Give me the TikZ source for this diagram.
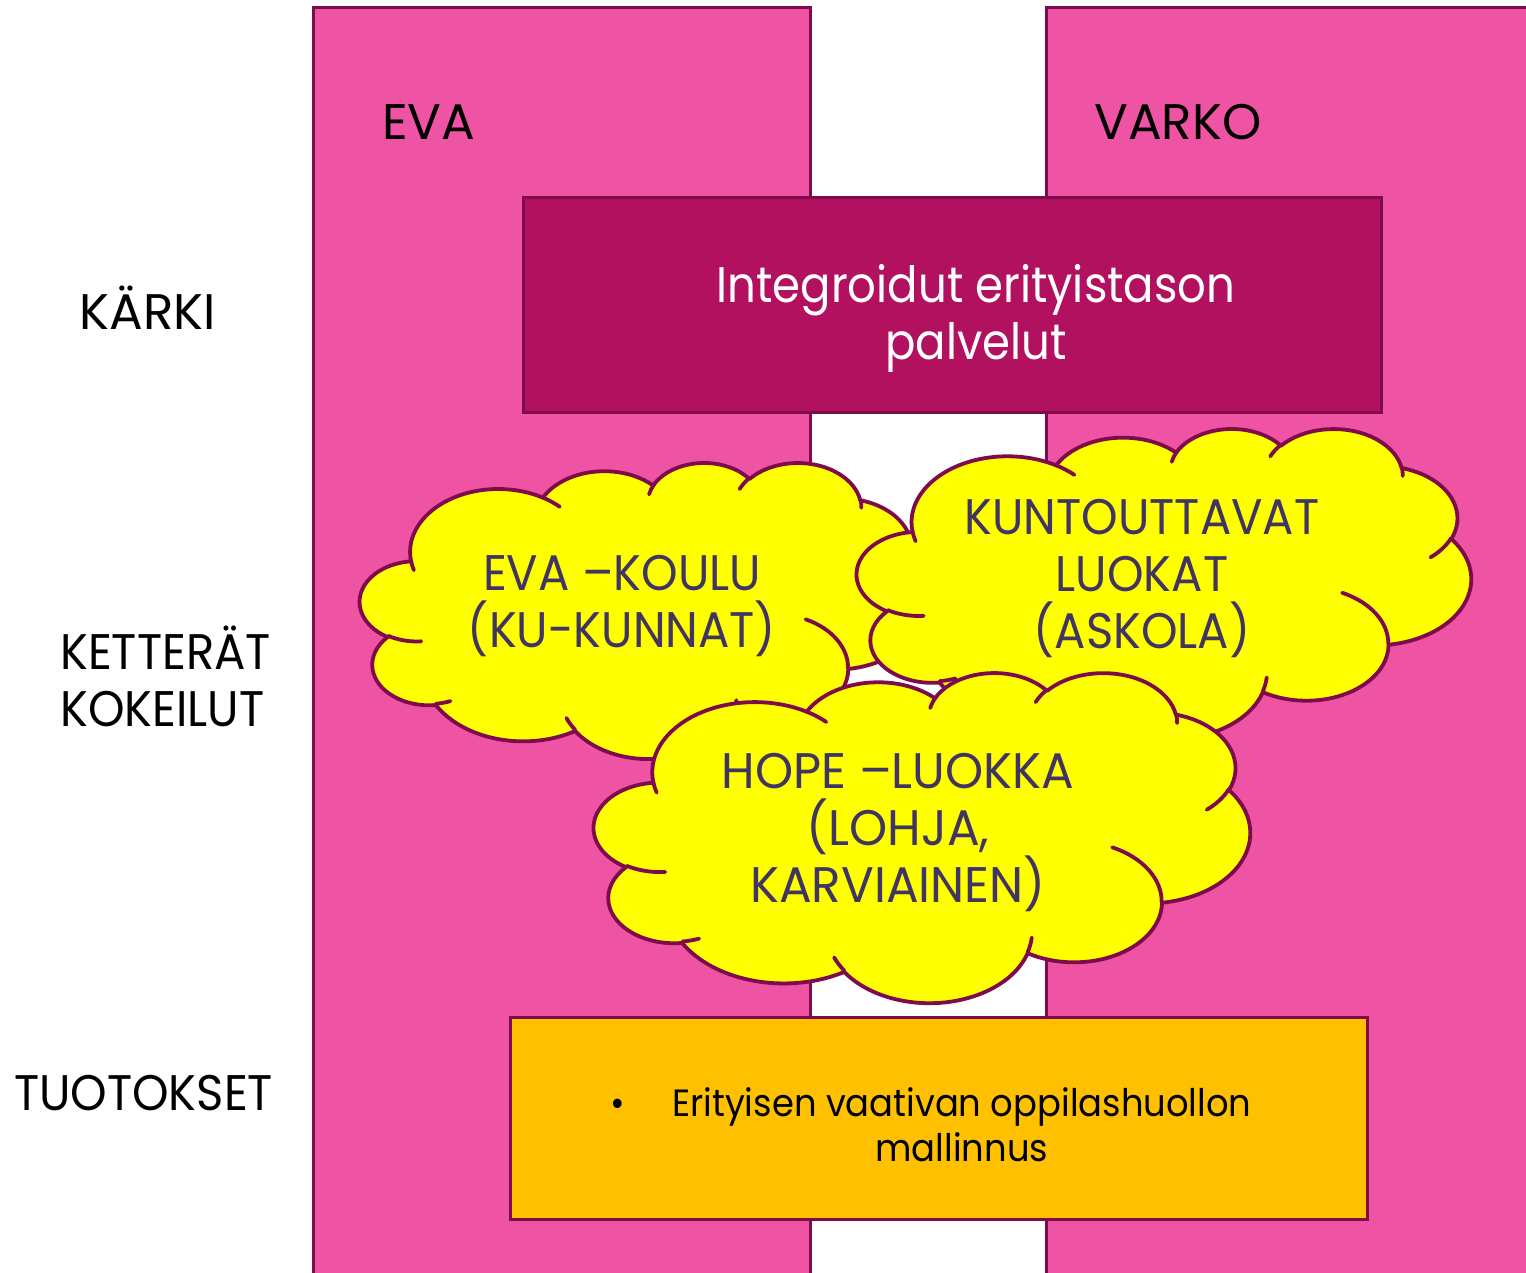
\documentclass[tikz,border=0pt]{standalone}
\usepackage{fontspec}
\setmainfont{Poppins}
\newfontfamily\fsA{Poppins}[FakeStretch=0.90]
\newfontfamily\fsB{Poppins}[FakeStretch=0.93]
\newfontfamily\fsC{Poppins}[FakeStretch=0.97]
\definecolor{pinkcol}{RGB}{239,83,164}
\definecolor{edgecol}{RGB}{126,12,76}
\definecolor{karkicol}{RGB}{178,17,96}
\definecolor{cloudtext}{RGB}{63,52,98}
\definecolor{orangecol}{RGB}{255,192,0}
\definecolor{cloudfill}{RGB}{255,255,0}
\newcommand\cldmain{}
\newcommand\cldinner{}
\newcommand\cloudshape[4]{%
  \begin{scope}[shift={(#1,#2)},xscale=#3/100,yscale=#4/100]
    \filldraw[cloudline,fill=cloudfill] (9.0278,33.2639) \cldmain -- cycle;
    \draw[cloudline] \cldinner;
  \end{scope}}
\begin{document}
\begin{tikzpicture}[x=1pt,y=-1pt,
  colbox/.style={fill=pinkcol,draw=edgecol,line width=3pt},
  cloudline/.style={draw=edgecol,line width=3.8pt,line join=round,line cap=round},
  labeltxt/.style={font=\fontsize{50}{57}\selectfont,inner sep=0pt,text=black},
  cloudtxt/.style={font=\fontsize{50}{57}\selectfont,inner sep=0pt,text=cloudtext,align=center},
  ]
% --- cloud outline (PowerPoint cloud geometry, 0..100 box) ---
\foreach \cW/\cH/\cS/\cD in {6753/9190/-190.4875/123.7805, 5333/7267/-144.1024/89.9452,
  4365/5945/-145.8079/99.7230, 4857/6595/-130.9861/117.2417, 5333/7273/-78.7089/109.0269,
  6775/9220/-46.2673/130.2690, 5785/7867/0.6250/114.0333, 6752/9215/22.4516/115.1726,
  7720/10543/66.2426/75.7110, 4360/5918/-274.9421/146.7356, 4345/5945/-246.8285/152.5189}{%
  \pgfmathsetmacro\cTa{atan2(\cW*sin(\cS),\cH*cos(\cS))}%
  \pgfmathsetmacro\cTb{atan2(\cW*sin(\cS+\cD),\cH*cos(\cS+\cD))}%
  \pgfmathsetmacro\cDd{mod((\cTb)-(\cTa)+720,360)}%
  \pgfmathsetmacro\cSa{0-(\cTa)}%
  \pgfmathsetmacro\cDa{0-(\cDd)}%
  \pgfmathsetmacro\cRx{\cW/432}%
  \pgfmathsetmacro\cRy{\cH/432}%
  \xdef\cldmain{\cldmain arc[start angle=\cSa, delta angle=\cDa, x radius=\cRx pt, y radius=\cRy pt]}%
}
\foreach \cX/\cY/\cW/\cH/\cS/\cD in {10.8634/60.5949/4345/5945/86.7420/26.4295,
  16.0370/80.7847/4360/5918/73.6105/11.4475, 38.1435/90.4861/6752/9215/137.6242/14.0811,
  66.7292/80.4421/6752/9215/6.4533/15.9984, 79.0023/53.1343/5785/7867/-70.2924/70.9174,
  96.7546/35.5417/5333/7273/30.3180/27.7515, 88.7130/12.5602/4857/6595/-13.7443/14.8589,
  67.3102/9.1481/4857/6595/-149.1815/18.1954, 51.2523/10.9259/4365/5945/-163.4943/17.6864,
  32.4074/12.0185/6753/9190/-66.7070/12.3194, 9.5532/36.5486/6753/9190/157.6544/11.8582}{%
  \pgfmathsetmacro\cTa{atan2(\cW*sin(\cS),\cH*cos(\cS))}%
  \pgfmathsetmacro\cTb{atan2(\cW*sin(\cS+\cD),\cH*cos(\cS+\cD))}%
  \pgfmathsetmacro\cDd{mod((\cTb)-(\cTa)+720,360)}%
  \pgfmathsetmacro\cSa{0-(\cTa)}%
  \pgfmathsetmacro\cDa{0-(\cDd)}%
  \pgfmathsetmacro\cRx{\cW/432}%
  \pgfmathsetmacro\cRy{\cH/432}%
  \xdef\cldinner{\cldinner (\cX,\cY) arc[start angle=\cSa, delta angle=\cDa, x radius=\cRx pt, y radius=\cRy pt]}%
}
\useasboundingbox (0,0) rectangle (1526,1273);
\fill[white] (0,0) rectangle (1526,1273);
% columns
\filldraw[colbox] (313,1300) -- (313,8) -- (810,8) -- (810,1300);
\filldraw[colbox] (1046,1300) -- (1046,8) -- (1560,8) -- (1560,1300);
% karki box
\node[fill=karkicol,draw=edgecol,line width=3pt,minimum width=858,minimum height=214,inner sep=0pt] (karki) at (952,305) {};
\node[font=\fontsize{50}{57}\selectfont\fsA,text=white,align=center,inner sep=0pt] (karkitxt) at (976,318) {Integroidut erityistason\\palvelut};
% output box
\node[fill=orangecol,draw=edgecol,line width=3pt,minimum width=857,minimum height=202,inner sep=0pt] (tuotos) at (938.5,1118) {};
\node[font=\fontsize{38}{45}\selectfont\fsB,text=black,inner sep=0pt,anchor=base west] (tuotostxt) at (610,1116)
  {\makebox[62pt][l]{\textbullet}\begin{tabular}[t]{@{}c@{}}Erityisen vaativan oppilashuollon\\mallinnus\end{tabular}};
% clouds
\cloudshape{360}{462}{564}{296}
\node[cloudtxt,font=\fontsize{50}{57}\selectfont\fsB] (evakoulu) at (622,606) {EVA –KOULU\\(KU-KUNNAT)};
\cloudshape{857}{428}{614}{310}
\node[cloudtxt,font=\fontsize{50}{57}\selectfont\fsB] (kuntout) at (1142,579) {KUNTOUTTAVAT\\LUOKAT\\(ASKOLA)};
\cloudshape{594}{672}{656}{330}
\node[cloudtxt,font=\fontsize{50}{57}\selectfont\fsC] (hope) at (898,833) {HOPE –LUOKKA\\(LOHJA,\\KARVIAINEN)};
% labels
\node[labeltxt,anchor=base west] (eva) at (382,140) {EVA};
\node[labeltxt,anchor=base west] (varko) at (1094,140) {VARKO};
\node[labeltxt,anchor=base] (karkilbl) at (148,330) {KÄRKI};
\node[labeltxt,font=\fontsize{50}{57}\selectfont\fsB,anchor=west,align=left] (ketterat) at (60,676) {KETTERÄT\\KOKEILUT};
\node[labeltxt,font=\fontsize{50}{57}\selectfont\fsB,anchor=base west] (tuotokset) at (14,1110) {TUOTOKSET};
\end{tikzpicture}
\end{document}
